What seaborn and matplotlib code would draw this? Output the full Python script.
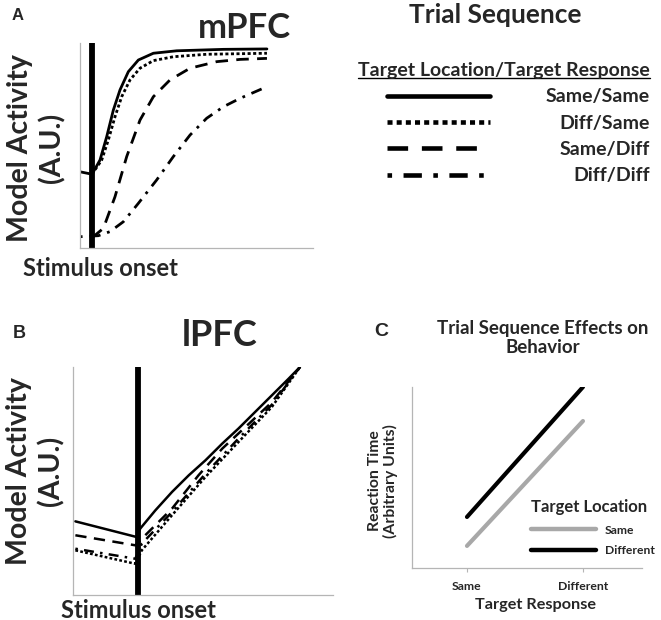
import matplotlib
matplotlib.use("Agg")
import pandas as pd
import matplotlib.pyplot as plt
import seaborn as sns
from matplotlib.lines import Line2D

sns.set_theme(style="white")
plt.rcParams['font.family'] = ['Lato', 'DejaVu Sans']
plt.rcParams['font.weight'] = 'bold'

# ---- data (time relative to stimulus onset, activity in A.U.) ----
sequences = ["Same/Same", "Diff/Same", "Same/Diff", "Diff/Diff"]
onset_time = 0

# Panel A - mPFC
mpfc_ss_t = [-0.21, 0.0, 0.137, 0.252, 0.366, 0.480, 0.623, 0.795, 1.052, 1.453, 2.253, 3.0]
mpfc_ss_y = [0.372, 0.360, 0.429, 0.543, 0.673, 0.771, 0.860, 0.917, 0.950, 0.962, 0.969, 0.971]
mpfc_ds_t = [0.0, 0.166, 0.280, 0.394, 0.509, 0.652, 0.823, 1.052, 1.395, 1.967, 3.0]
mpfc_ds_y = [0.360, 0.429, 0.527, 0.640, 0.738, 0.820, 0.877, 0.914, 0.933, 0.945, 0.950]
mpfc_sd_t = [0.0, 0.195, 0.394, 0.595, 0.823, 1.052, 1.338, 1.681, 2.139, 2.539, 3.0]
mpfc_sd_y = [0.050, 0.096, 0.250, 0.446, 0.624, 0.738, 0.820, 0.877, 0.909, 0.920, 0.925]
mpfc_dd_t = [-0.21, 0.109, 0.309, 0.537, 0.795, 1.109, 1.395, 1.681, 1.967, 2.253, 2.539, 3.0]
mpfc_dd_y = [0.055, 0.060, 0.080, 0.128, 0.218, 0.332, 0.446, 0.551, 0.633, 0.689, 0.730, 0.787]

# Panel B - lPFC
lpfc_ss_t = [-1.16, -0.02, 0.04, 0.32, 0.63, 0.94, 1.25, 1.56, 1.86, 2.17, 2.48, 2.79, 3.0]
lpfc_ss_y = [0.323, 0.254, 0.291, 0.371, 0.452, 0.525, 0.591, 0.664, 0.730, 0.803, 0.876, 0.949, 1.0]
lpfc_ds_t = [-1.16, -0.05, 0.07, 0.63, 1.25, 1.86, 2.48, 3.0]
lpfc_ds_y = [0.196, 0.137, 0.196, 0.350, 0.518, 0.671, 0.825, 1.0]
lpfc_sd_t = [-1.16, -0.05, 0.10, 0.63, 1.12, 1.56, 1.99, 2.48, 3.0]
lpfc_sd_y = [0.262, 0.218, 0.254, 0.379, 0.525, 0.642, 0.737, 0.846, 1.0]
lpfc_dd_t = [-1.16, -0.05, 0.07, 0.63, 1.25, 1.86, 2.48, 3.0]
lpfc_dd_y = [0.203, 0.159, 0.225, 0.364, 0.532, 0.686, 0.835, 1.0]

# Panel C - behaviour
target_response = ["Same", "Different"]
rt_same_location = [0.122, 0.812]
rt_diff_location = [0.282, 1.0]

# line styles per sequence
dash_styles = {"Same/Same": "", "Diff/Same": (1.1, 0.9),
               "Same/Diff": (4.5, 3), "Diff/Diff": (1, 2.5, 4, 2.5)}
black = dict.fromkeys(sequences, "black")


def long_df(pairs):
    return pd.concat([pd.DataFrame({"time": t, "activity": y, "sequence": s})
                      for s, (t, y) in zip(sequences, pairs)], ignore_index=True)


dfA = long_df([(mpfc_ss_t, mpfc_ss_y), (mpfc_ds_t, mpfc_ds_y),
               (mpfc_sd_t, mpfc_sd_y), (mpfc_dd_t, mpfc_dd_y)])
dfB = long_df([(lpfc_ss_t, lpfc_ss_y), (lpfc_ds_t, lpfc_ds_y),
               (lpfc_sd_t, lpfc_sd_y), (lpfc_dd_t, lpfc_dd_y)])
dfC = pd.DataFrame({
    "response": target_response * 2,
    "rt": rt_same_location + rt_diff_location,
    "location": ["Same"] * 2 + ["Different"] * 2,
})

W, H = 661, 620
fig = plt.figure(figsize=(W / 100, H / 100), dpi=100)


def px_axes(l, t, r, b):
    return fig.add_axes([l / W, 1 - b / H, (r - l) / W, (b - t) / H])


axA = px_axes(80, 43, 313, 248)
axB = px_axes(73, 367, 333, 595)
axC = px_axes(412, 387, 642, 568)

spine_col = "#b5b5b5"
for ax in (axA, axB, axC):
    sns.despine(ax=ax)
    for s in ("left", "bottom"):
        ax.spines[s].set_color(spine_col)
        ax.spines[s].set_linewidth(0.9)

# ---- Panel A ----
sns.lineplot(data=dfA, x="time", y="activity", hue="sequence", style="sequence",
             palette=black, dashes=dash_styles, estimator=None, sort=False,
             linewidth=2.0, legend=False, ax=axA)
seq_lines = axA.get_lines()[:4]
axA.axvline(onset_time, color="black", lw=4.2)
axA.set_xlim(-0.206, 3.79)
axA.set_ylim(0, 1)
axA.set_xticks([])
axA.set_yticks([])
axA.set_xlabel("Stimulus onset", fontsize=17, fontweight="bold", va="center")
axA.xaxis.set_label_coords(0.086, -0.098)
axA.set_ylabel("Model Activity\n(A.U.)", fontsize=20.5, fontweight="bold",
               va="center", linespacing=1.25)
axA.yaxis.set_label_coords(-0.187, 0.488)

# ---- Panel B ----
sns.lineplot(data=dfB, x="time", y="activity", hue="sequence", style="sequence",
             palette=black, dashes=dash_styles, estimator=None, sort=False,
             linewidth=1.8, legend=False, ax=axB)
axB.axvline(onset_time, color="black", lw=4.2)
axB.set_xlim(-1.204, 3.611)
axB.set_ylim(0, 1)
axB.set_xticks([])
axB.set_yticks([])
axB.set_xlabel("Stimulus onset", fontsize=17, fontweight="bold", va="center")
axB.xaxis.set_label_coords(0.25, -0.066)
axB.set_ylabel("Model Activity\n(A.U.)", fontsize=20.5, fontweight="bold",
               va="center", linespacing=1.25)
axB.yaxis.set_label_coords(-0.146, 0.544)

# ---- Panel C ----
sns.lineplot(data=dfC, x="response", y="rt", hue="location",
             hue_order=["Same", "Different"],
             palette={"Same": "#a8a8a8", "Different": "black"},
             estimator=None, sort=False, linewidth=3.0, legend=False, ax=axC)
axC.set_xlim(-0.474, 1.509)
axC.set_ylim(0, 1.0)
axC.set_yticks([])
axC.tick_params(axis="x", bottom=True, length=3, width=0.8, color=spine_col,
                labelsize=8.8, pad=6)
for t in axC.get_xticklabels():
    t.set_fontweight("bold")
axC.set_xlabel("Target Response", fontsize=11.7, fontweight="bold", va="center")
axC.xaxis.set_label_coords(0.535, -0.204)
axC.set_ylabel("Reaction Time\n(Arbitrary Units)", fontsize=11.3, fontweight="bold",
               va="center", linespacing=1.0)
axC.yaxis.set_label_coords(-0.126, 0.48)

legC = axC.legend(handles=axC.get_lines()[:2], labels=["Same", "Different"],
                  title="Target Location", loc="upper left",
                  bbox_to_anchor=(531 / W, 1 - 499 / H), bbox_transform=fig.transFigure,
                  frameon=False, borderpad=0, borderaxespad=0, fontsize=8.7,
                  handlelength=5.4, handletextpad=0.7, labelspacing=0.8,
                  alignment="left",
                  title_fontproperties={"weight": "bold", "size": 12})
for h in legC.legend_handles:
    h.set_linewidth(3.2)

# ---- sequence legend for panel A ----
legA = fig.legend(handles=seq_lines, labels=sequences,
                  title="Target Location/Target Response", loc="upper right",
                  bbox_to_anchor=(650 / W, 1 - 62 / H), frameon=False, borderpad=0,
                  borderaxespad=0, fontsize=14, handlelength=5.3, handletextpad=2.85,
                  labelspacing=0.48, alignment="right",
                  title_fontproperties={"weight": "bold", "size": 14})
for h in legA.legend_handles:
    h.set_linewidth(3.3)

# ---- text ----
fig.text(244 / W, 1 - 28 / H, "mPFC", fontsize=25, fontweight="bold", ha="center", va="center")
fig.text(220 / W, 1 - 335 / H, "lPFC", fontsize=26, fontweight="bold", ha="center", va="center")
fig.text(495 / W, 1 - 15 / H, "Trial Sequence", fontsize=19, fontweight="bold", ha="center", va="center")
fig.text(543 / W, 1 - 338 / H, "Trial Sequence Effects on\nBehavior", fontsize=13.5,
         fontweight="bold", ha="center", va="center", linespacing=1.2)
for letter, (x, y), size in [("A", (18, 16), 12), ("B", (19, 334), 13), ("C", (381, 332), 14)]:
    fig.text(x / W, 1 - y / H, letter, fontsize=size, fontweight="bold",
             family="Liberation Sans", ha="center", va="center")

# right-align the sequence labels and underline the legend title
fig.canvas.draw()
texts = legA.get_texts()
widths = [t.get_window_extent().width for t in texts]
for t, w in zip(texts, widths):
    t.set_position((max(widths) - w, 0))
bb = legA.get_title().get_window_extent()
fig.add_artist(Line2D([bb.x0 / W, bb.x1 / W], [(bb.y0 + 1) / H] * 2,
                      transform=fig.transFigure, color="black", lw=1.0))

fig.savefig("out.png", dpi=100)
